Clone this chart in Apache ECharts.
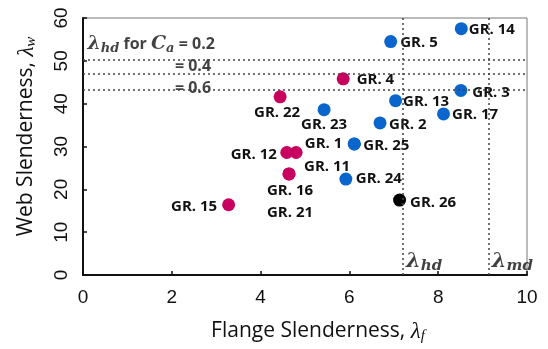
<!DOCTYPE html>
<html>
<head>
<meta charset="utf-8">
<script src="https://cdn.jsdelivr.net/npm/echarts@6/dist/echarts.min.js"></script>
<style>
  html, body { margin: 0; padding: 0; background: #ffffff; }
  #chart { width: 548px; height: 349px; }
</style>
</head>
<body>
<div id="chart"></div>
<script>
// Girder slenderness data
const girderNames = ['GR. 14', 'GR. 5', 'GR. 4', 'GR. 3', 'GR. 13', 'GR. 17', 'GR. 23', 'GR. 2',
  'GR. 1', 'GR. 25', 'GR. 22', 'GR. 12', 'GR. 11', 'GR. 16', 'GR. 21', 'GR. 24', 'GR. 15', 'GR. 26'];
const flangeSlenderness = [8.52, 6.93, 5.86, 8.51, 7.04, 8.12, 5.43, 6.69,
  6.11, 6.11, 4.44, 4.59, 4.80, 4.64, 4.64, 5.92, 3.28, 7.13];
const webSlenderness = [57.5, 54.5, 45.8, 43.1, 40.7, 37.6, 38.6, 35.5,
  30.6, 30.6, 41.6, 28.6, 28.6, 23.6, 23.6, 22.4, 16.4, 17.5];
const girderGroup = ['A', 'A', 'B', 'A', 'A', 'A', 'A', 'A',
  'A', 'A', 'B', 'B', 'B', 'B', 'B', 'A', 'B', 'C'];

// Slenderness limits
const webLimitCa = ['0.2', '0.4', '0.6'];
const webLimitValues = [50.3, 46.9, 43.3];
const flangeLimitNames = ['hd', 'md'];
const flangeLimitValues = [7.21, 9.14];

// Axis ticks
const xTicks = [0, 2, 4, 6, 8, 10];
const yTicks = [0, 10, 20, 30, 40, 50, 60];

// Styling
const groupColors = { A: '#0a66cc', B: '#c8005f', C: '#000000' };
const labelFont = 'Open Sans';
const tickFont = 'Liberation Sans';
// label placement per girder: [position, distance, dx, dy]
const labelPlacement = {
  'GR. 14': ['right', 1, 0, 1],
  'GR. 5': ['right', 3, 0, 1],
  'GR. 4': ['right', 7, 0, 1],
  'GR. 3': ['right', 5, 0, 2],
  'GR. 13': ['right', 1, 0, 1],
  'GR. 17': ['right', 2, 0, 1],
  'GR. 23': ['inside', 0, 0, 15],
  'GR. 2': ['right', 2.5, 0, 1.5],
  'GR. 1': ['left', 5.5, 0, 0],
  'GR. 25': ['right', 2.5, 0, 1.5],
  'GR. 22': ['inside', 0, -3, 16],
  'GR. 12': ['left', 3.5, 0, 2],
  'GR. 11': ['inside', 0, 31, 14],
  'GR. 16': ['inside', 0, 1, 17],
  'GR. 21': ['inside', 0, 1, 39],
  'GR. 24': ['right', 3.5, 0, 0],
  'GR. 15': ['left', 5, 0, 1.5],
  'GR. 26': ['right', 4, 0, 3]
};

const mathFont = 'DejaVu Serif';
const richMath = {
  l: { fontFamily: mathFont, fontStyle: 'italic', fontWeight: 'bold', fontSize: 19, color: '#111' },
  s: { fontFamily: mathFont, fontStyle: 'italic', fontWeight: 'bold', fontSize: 13, color: '#111', padding: [8, 0, 0, 0] },
  t: { fontFamily: 'Open Sans', fontWeight: 'bold', fontSize: 16, color: '#111' }
};

function pointItem(i) {
  const p = labelPlacement[girderNames[i]];
  return {
    name: girderNames[i],
    value: [flangeSlenderness[i], webSlenderness[i]],
    itemStyle: { color: groupColors[girderGroup[i]], opacity: 1 },
    label: {
      show: true,
      position: p[0],
      distance: p[1],
      offset: [p[2], p[3]],
      formatter: girderNames[i]
    }
  };
}

const girderData = girderNames.map((_, i) => pointItem(i));

// threshold lines
const hLines = webLimitValues.map(v => ({ yAxis: v }));
const vLines = flangeLimitValues.map(v => ({ xAxis: v }));

// annotation anchors for the threshold labels
const webLimitLabels = webLimitValues.map((v, i) => ({
  value: [i === 0 ? 0.1 : 2.07, v],
  label: {
    formatter: i === 0
      ? '{l|λ}{s|hd}{t| for }{l|C}{s|a}{t| = ' + webLimitCa[i] + '}'
      : '{t|= ' + webLimitCa[i] + '}',
    offset: i === 0 ? [0, -15] : (i === 1 ? [0, -8] : [0, -1])
  }
}));
const flangeLimitLabels = flangeLimitValues.map((v, i) => ({
  value: [v, 0],
  label: {
    formatter: '{L|λ}{S|' + flangeLimitNames[i] + '}',
    offset: [0, -13]
  }
}));

const chart = echarts.init(document.getElementById('chart'), null, { renderer: 'canvas' });

const axisLabelStyle = { fontFamily: tickFont, fontSize: 19, color: '#111' };
const titleRich = {
  l: { fontFamily: 'Liberation Serif', fontStyle: 'italic', fontSize: 23, color: '#111' },
  s: { fontFamily: 'Liberation Serif', fontStyle: 'italic', fontSize: 15, color: '#111', padding: [10, 0, 0, 0] }
};

chart.setOption({
  animation: false,
  backgroundColor: '#ffffff',
  grid: {
    left: 83, right: 21, top: 18, bottom: 74,
    show: true, borderColor: '#777777', borderWidth: 1, backgroundColor: 'transparent'
  },
  xAxis: {
    type: 'value', min: xTicks[0], max: xTicks[xTicks.length - 1], interval: 2,
    name: 'Flange Slenderness, {l|λ}{s|f}',
    nameLocation: 'middle', nameGap: 44,
    nameTextStyle: {
      fontFamily: 'Open Sans', fontSize: 21, color: '#111',
      padding: [0, 0, 0, 26],
      rich: titleRich
    },
    axisLine: { show: true, lineStyle: { color: '#111', width: 2 } },
    axisTick: { show: true, inside: true, length: 4, lineStyle: { color: '#111', width: 1.5 } },
    axisLabel: Object.assign({ margin: 13 }, axisLabelStyle),
    splitLine: { show: false }
  },
  yAxis: {
    type: 'value', min: yTicks[0], max: yTicks[yTicks.length - 1], interval: 10,
    name: 'Web Slenderness, {l|λ}{s|w}',
    nameLocation: 'middle', nameGap: 44, nameRotate: 90,
    nameTextStyle: {
      fontFamily: 'Open Sans', fontSize: 21, color: '#111',
      padding: [0, 0, 0, 20],
      rich: titleRich
    },
    axisLine: { show: true, lineStyle: { color: '#111', width: 2 } },
    axisTick: { show: true, inside: true, length: 4, lineStyle: { color: '#111', width: 1.5 } },
    axisLabel: Object.assign({ margin: 12, rotate: 90 }, axisLabelStyle),
    splitLine: { show: false }
  },
  series: [
    {
      name: 'limits',
      type: 'line',
      data: [],
      silent: true,
      markLine: {
        silent: true,
        symbol: 'none',
        label: { show: false },
        lineStyle: { type: [2, 3], color: '#444', width: 1.5 },
        data: hLines.concat(vLines)
      }
    },
    {
      name: 'girders',
      type: 'scatter',
      symbolSize: 13,
      data: girderData,
      label: {
        fontFamily: labelFont, fontWeight: 'bold', fontSize: 15, color: '#111'
      },
      z: 3
    },
    {
      name: 'web limit labels',
      type: 'scatter',
      symbolSize: 0,
      silent: true,
      data: webLimitLabels,
      label: { show: true, position: 'right', distance: 0, rich: richMath }
    },
    {
      name: 'flange limit labels',
      type: 'scatter',
      symbolSize: 0,
      silent: true,
      data: flangeLimitLabels,
      label: {
        show: true, position: 'right', distance: 3,
        rich: {
          L: { fontFamily: mathFont, fontStyle: 'italic', fontWeight: 'bold', fontSize: 21, color: '#111' },
          S: { fontFamily: mathFont, fontStyle: 'italic', fontWeight: 'bold', fontSize: 15, color: '#111', padding: [8, 0, 0, 0] }
        }
      }
    }
  ]
});
</script>
</body>
</html>
